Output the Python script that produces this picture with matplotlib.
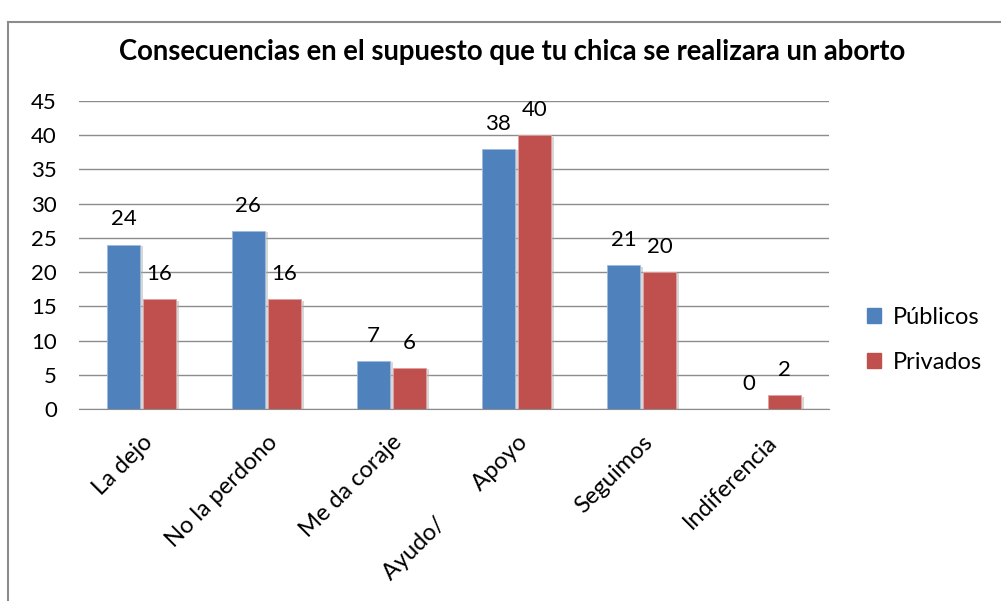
import numpy as np
import matplotlib.pyplot as plt
import matplotlib.patheffects as pe
from matplotlib.lines import Line2D

plt.rcParams['font.family'] = ['Lato', 'DejaVu Sans']

categories = ['La dejo', 'No la perdono', 'Me da coraje',
              'Ayudo/        Apoyo', 'Seguimos', 'Indiferencia']
publicos = [24, 26, 7, 38, 21, 0]
privados = [16, 16, 6, 40, 20, 2]

blue = '#4F81BD'
red = '#C0504D'

fig = plt.figure(figsize=(10.01, 6.01), dpi=100)
ax = fig.add_axes([79 / 1001, 1 - 409 / 601, 750 / 1001, 308 / 601])

x = np.arange(len(categories))
w = 0.265
shadow = [pe.SimplePatchShadow(offset=(2, -1), shadow_rgbFace='#b0b0b0', alpha=0.5), pe.Normal()]
b1 = ax.bar(x - w / 2 - 0.012, publicos, w, color=blue, edgecolor='#9dbbe0', linewidth=0.6,
            path_effects=shadow, zorder=3)
b2 = ax.bar(x + w / 2 + 0.012, privados, w, color=red, edgecolor='#e0a09e', linewidth=0.6,
            path_effects=shadow, zorder=3)

for bars, vals in ((b1, publicos), (b2, privados)):
    for b, v in zip(bars, vals):
        ax.annotate(str(v), (b.get_x() + b.get_width() / 2, v), xytext=(0, 11),
                    textcoords='offset points', ha='center', va='bottom', fontsize=16)

ax.set_xlim(-0.5, len(categories) - 0.5)
ax.set_ylim(0, 45)
ax.set_yticks(range(0, 46, 5))
ax.grid(axis='y', color='#8c8c8c', linewidth=1, zorder=0)
for s in ('top', 'right', 'left'):
    ax.spines[s].set_visible(False)
ax.spines['bottom'].set_color('#8c8c8c')
ax.tick_params(axis='y', length=0, labelsize=16, pad=16)
ax.tick_params(axis='x', length=0, labelsize=17, pad=16)
ax.set_xticks(x)
ax.set_xticklabels(categories, rotation=45, ha='right', rotation_mode='anchor')

fig.text(0.512, 1 - 52 / 601, 'Consecuencias en el supuesto que tu chica se realizara un aborto',
         ha='center', va='center', fontsize=19.8, fontweight='bold')

handles = [plt.Rectangle((0, 0), 1, 1, color=blue), plt.Rectangle((0, 0), 1, 1, color=red)]
fig.legend(handles, ['Públicos', 'Privados'], loc='center left',
           bbox_to_anchor=(846 / 1001, 1 - 340 / 601), frameon=False, fontsize=17,
           handlelength=0.6, handleheight=0.6, handletextpad=0.5, labelspacing=1.0)

fig.add_artist(Line2D([8 / 1001, 1], [1 - 22 / 601, 1 - 22 / 601], color='#8c8c8c', lw=1.5))
fig.add_artist(Line2D([8 / 1001, 8 / 1001], [0, 1 - 22 / 601], color='#8c8c8c', lw=1.5))

fig.savefig('out.png', dpi=100)
